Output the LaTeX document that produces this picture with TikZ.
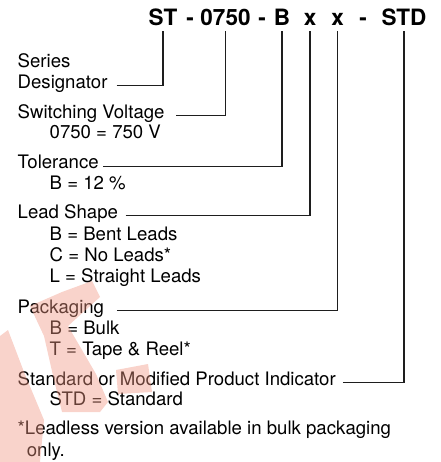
\documentclass[tikz,border=0pt]{standalone}
\usepackage{fontspec}
\setmainfont{TeX Gyre Heros}
\usepackage{tikz}
\definecolor{LeadGray}{RGB}{30, 30, 30}
\definecolor{MarkSalmon}{RGB}{240, 150, 130}
\tikzset{
	code/.style={anchor=base, inner xsep=0pt, inner ysep=5pt, font=\fontsize{22.5}{27}\selectfont\bfseries},
	entry/.style={anchor=base west, inner sep=0pt, font=\fontsize{18.6}{21}\selectfont},
	lead/.style={line width=1.2pt, LeadGray}
}
\begin{document}
\begin{tikzpicture}[x=1pt, y=-1pt]
		\useasboundingbox (0, 0) rectangle (440, 462);
		% part number
		\node[code] (ST) at (163, 26) {ST};
		\node[code] (d1) at (190, 26) {-};
		\node[code] (volt) at (225.5, 26) {0750};
		\node[code] (d2) at (262, 26) {-};
		\node[code] (tol) at (282, 26) {B};
		\node[code] (shape) at (310, 26) {x};
		\node[code] (pack) at (337.5, 26) {x};
		\node[code] (d3) at (363, 26) {-};
		\node[code] (STD) at (404, 26) {STD};
		% legend
		\node[entry] (ser) at (17.5, 67.3) {Series};
		\node[entry] (des) at (17.5, 88.3) {Designator};
		\node[entry] (sw) at (17.5, 118.3) {Switching Voltage};
		\node[entry] (sw1) at (49.5, 138.5) {0750 = 750 V};
		\node[entry] (tl) at (17.5, 169) {Tolerance};
		\node[entry] (tl1) at (49.5, 189.5) {B = 12 \%};
		\node[entry] (ls) at (17.5, 218.5) {Lead Shape};
		\node[entry] (ls1) at (49.5, 240.5) {B = Bent Leads};
		\node[entry] (ls2) at (49.5, 261.5) {C = No Leads*};
		\node[entry] (ls3) at (49.5, 282.5) {L = Straight Leads};
		\node[entry] (pk) at (17.5, 313.3) {Packaging};
		\node[entry] (pk1) at (49.5, 334) {B = Bulk};
		\node[entry] (pk2) at (49.5, 355) {T = Tape \& Reel*};
		\node[entry] (sd) at (17.5, 385) {Standard or Modified Product Indicator};
		\node[entry] (sd1) at (49.5, 405.7) {STD = Standard};
		\node[entry] (fn) at (17.5, 434.3) {*Leadless version available in bulk packaging};
		\node[entry] (fn1) at (26.7, 456) {only.};
		% leaders
		\draw[lead] ([xshift=9pt]des.mid east) -| (ST.south);
		\draw[lead] ([xshift=11.5pt]sw.mid east) -| (volt.south);
		\draw[lead] ([xshift=4.5pt]tl.mid east) -| (tol.south);
		\draw[lead] ([xshift=7.5pt]ls.mid east) -| (shape.south);
		\draw[lead] ([xshift=12.5pt]pk.mid east) -| (pack.south);
		\draw[lead] ([xshift=7pt]sd.mid east) -| (STD.south);
		% watermark
		\begin{scope}[fill=MarkSalmon, fill opacity=0.42]
			\fill (62,292) -- (92,281) -- (100,297) -- (68,326) -- (96,374) -- (108,402) -- (100,412) -- (62,412) -- (54,380) -- (44,336) -- (30,306) -- cycle;
			\fill (0,336) -- (8,330) -- (24,372) -- (44,420) -- (40,462) -- (0,462) -- cycle;
			\fill (116,370) -- (148,364) -- (152,392) -- (118,394) -- cycle;
		\end{scope}
	\end{tikzpicture}
\end{document}
